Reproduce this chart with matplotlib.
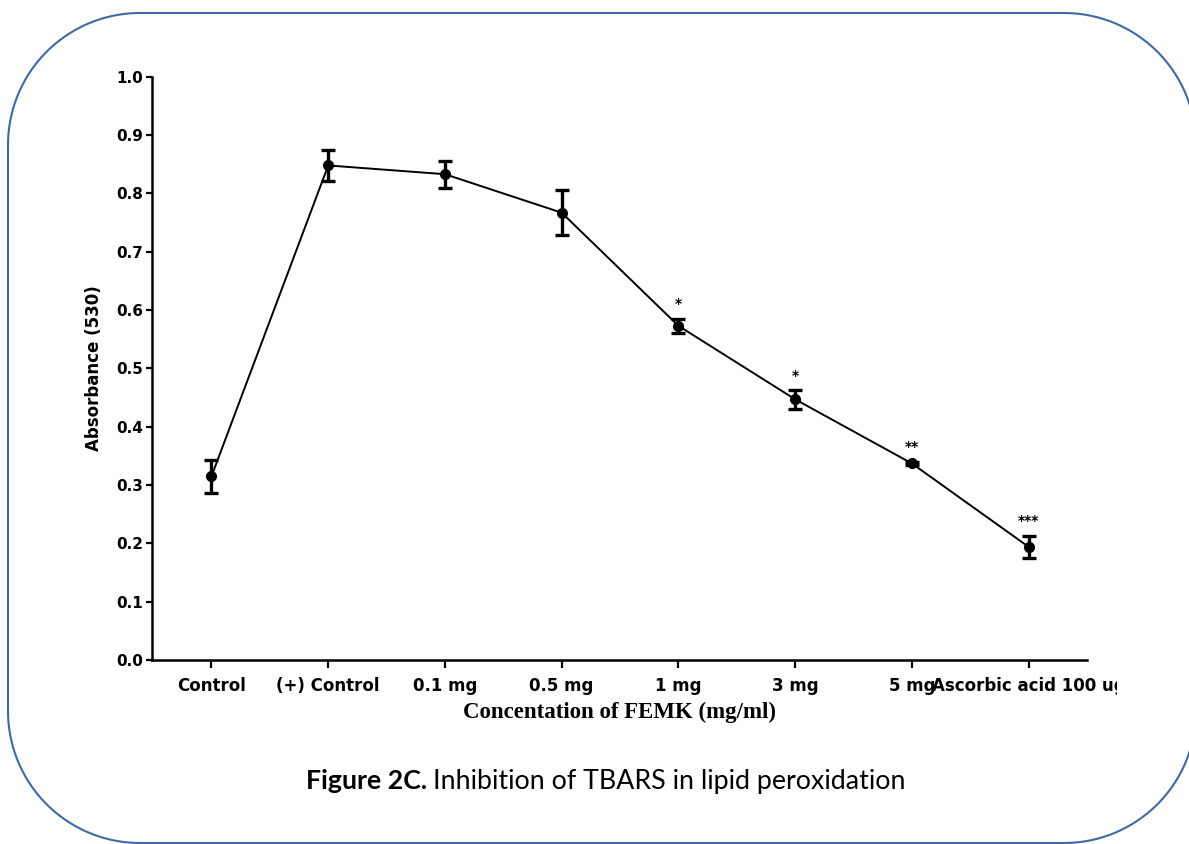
"""TBARS inhibition in lipid peroxidation — absorbance at 530 nm across FEMK doses."""
import matplotlib
matplotlib.use("Agg")
import matplotlib.pyplot as plt
import matplotlib.patches as mpatches
from matplotlib.transforms import Bbox
import numpy as np

groups = ["Control", "(+) Control", "0.1 mg", "0.5 mg", "1 mg", "3 mg", "5 mg",
          "Ascorbic acid 100 ug"]
absorbance = [0.315, 0.848, 0.833, 0.767, 0.573, 0.447, 0.337, 0.194]
sem = [0.028, 0.027, 0.023, 0.039, 0.012, 0.016, 0.003, 0.019]
signif = ["", "", "", "", "*", "*", "**", "***"]

BOLD = {"family": "DejaVu Sans", "weight": "bold"}


def rounded_frame(x0, y0, x1, y1, r, n=40):
    """Closed rounded-rectangle outline as plain line segments (inches)."""
    pts = []
    corners = [(x1 - r, y1 - r, 0), (x0 + r, y1 - r, 90),
               (x0 + r, y0 + r, 180), (x1 - r, y0 + r, 270)]
    for cx, cy, a0 in corners:
        t = np.radians(np.linspace(a0, a0 + 90, n))
        pts.extend(zip(cx + r * np.cos(t), cy + r * np.sin(t)))
    return np.array(pts)


fig = plt.figure(figsize=(11.89, 8.44), dpi=100)

frame = mpatches.Polygon(rounded_frame(0.08, 0.01, 11.96, 8.31, 1.32), closed=True,
                         transform=fig.dpi_scale_trans, fill=False,
                         edgecolor="#3d69a6", linewidth=1.5)
fig.add_artist(frame)

ax = fig.add_axes([0.1278, 0.218, 0.7864, 0.691])
x = np.arange(len(groups))
ax.errorbar(x, absorbance, yerr=sem, color="black", lw=1.4, marker="o", ms=7,
            elinewidth=2.4, capsize=5, capthick=2.4)

for xi, m, e, s in zip(x, absorbance, sem, signif):
    if s:
        ax.annotate(s, (xi, m + e), xytext=(0, 7.5), textcoords="offset points",
                    ha="center", va="baseline", fontsize=10, **BOLD)

ax.set_xlim(-0.51, 7.5)
ax.set_ylim(0, 1.0)
ax.set_yticks(np.arange(0, 1.01, 0.1))
ax.set_yticklabels([f"{v:.1f}" for v in np.arange(0, 1.01, 0.1)], fontsize=11, **BOLD)
ax.set_xticks(x)
ax.set_xticklabels(groups, fontsize=12, **BOLD)

for side in ("top", "right"):
    ax.spines[side].set_visible(False)
for side in ("left", "bottom"):
    ax.spines[side].set_linewidth(1.8)
ax.tick_params(axis="y", length=4.5, width=1.6, pad=2)
ax.tick_params(axis="x", length=6, width=1.6, pad=6)

ax.set_ylabel("Absorbance (530)", fontsize=12, labelpad=9, **BOLD)
ax.set_xlabel("Concentation of FEMK (mg/ml)", fontsize=16.5, labelpad=5,
              family="Liberation Serif", weight="bold")

# last label runs past the panel edge and gets cut off
last = ax.get_xticklabels()[-1]
last.set_clip_on(True)
last.set_clip_box(Bbox.from_extents(0, 0, 1117, 844))

cap_bold = fig.text(0.257, 0.065, "Figure 2C.", fontsize=19.3, family="Lato",
                    weight="bold", ha="left", va="baseline")
fig.canvas.draw()
bb = cap_bold.get_window_extent()
fig.text(bb.x1 / fig.bbox.width + 0.005, 0.065,
         "Inhibition of TBARS in lipid peroxidation", fontsize=19.3,
         family="Lato", ha="left", va="baseline")

fig.savefig("out.png", dpi=100)
